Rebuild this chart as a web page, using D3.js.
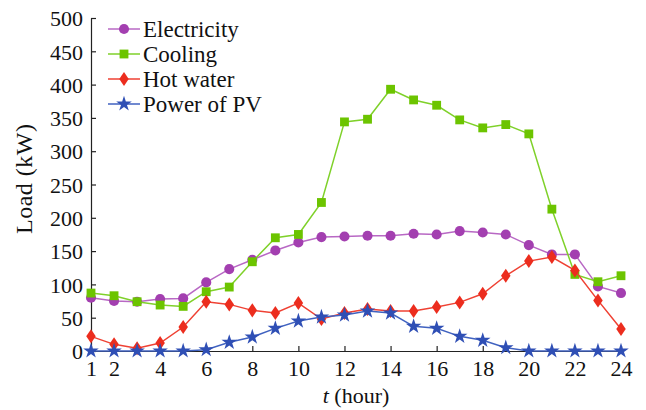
<!DOCTYPE html>
<html>
<head>
<meta charset="utf-8">
<script src="https://cdn.jsdelivr.net/npm/d3@7"></script>
<style>
  body { margin: 0; background: #fff; }
  svg text { font-family: "Liberation Serif", "Times New Roman", serif; fill: #111; }
</style>
</head>
<body>
<div id="chart"></div>
<script>
// Data (kW per hour)
const hours = d3.range(1, 25);
const electricity = [80, 75, 74, 78, 79, 103, 123, 137, 151, 163, 171, 172, 173, 173, 176, 175, 180, 178, 175, 159, 145, 145, 97, 87];
const cooling = [87, 83, 74, 69, 67, 89, 96, 134, 170, 175, 223, 344, 348, 393, 377, 369, 347, 335, 340, 326, 213, 115, 104, 113];
const hotWater = [22, 10, 4, 12, 36, 74, 70, 61, 57, 72, 48, 57, 63, 60, 60, 66, 73, 86, 113, 135, 141, 121, 76, 33];
const pv = [0, 0, 0, 0, 0, 2, 13, 21, 34, 45, 51, 54, 60, 57, 37, 34, 22, 16, 5, 0, 0, 0, 0, 0];

const xTicks = [1, 2, 4, 6, 8, 10, 12, 14, 16, 18, 20, 22, 24];
const yTicks = d3.range(0, 501, 50);

const series = [
    { name: 'Electricity', values: electricity, color: '#a33fb0', line: '#b868c4', shape: 'circle' },
    { name: 'Cooling', values: cooling, color: '#6cc400', line: '#7fd12a', shape: 'square' },
    { name: 'Hot water', values: hotWater, color: '#ec2d1e', line: '#ef4133', shape: 'diamond' },
    { name: 'Power of PV', values: pv, color: '#2f4fb5', line: '#4062c0', shape: 'star' }
];

const width = 646, height = 410;
const x = d3.scaleLinear().domain([1, 24]).range([91, 621]);
const y = d3.scaleLinear().domain([0, 500]).range([351, 18]);

const svg = d3.select('#chart').append('svg')
    .attr('width', width)
    .attr('height', height);

// axes, ticks pointing inward
const xAxis = svg.append('g')
    .attr('transform', `translate(0,${y(0)})`)
    .call(d3.axisBottom(x).tickValues(xTicks).tickSizeInner(-5).tickSizeOuter(0).tickPadding(9));
const yAxis = svg.append('g')
    .attr('transform', `translate(${x(1)},0)`)
    .call(d3.axisLeft(y).tickValues(yTicks).tickSizeInner(-5).tickSizeOuter(0).tickPadding(8));

[xAxis, yAxis].forEach(g => {
    g.attr('font-family', null).attr('font-size', null);
    g.select('.domain').attr('stroke', '#222').attr('stroke-width', 1.2);
    g.selectAll('.tick line').attr('stroke', '#222').attr('stroke-width', 1.2);
    g.selectAll('.tick text')
        .style('font-size', '22px')
        .attr('fill', '#111');
});
yAxis.selectAll('.tick text').attr('dy', '0.35em');

// axis titles
svg.append('text')
    .attr('transform', 'translate(24,179) rotate(-90)')
    .attr('text-anchor', 'middle')
    .attr('dy', '0.35em')
    .attr('textLength', 110)
    .style('font-size', '24px')
    .text('Load (kW)');

const xt = svg.append('text')
    .attr('x', 356)
    .attr('y', 403)
    .attr('text-anchor', 'middle')
    .style('font-size', '22px');
xt.append('tspan').style('font-style', 'italic').text('t');
xt.append('tspan').text(' (hour)');

// markers
const symbols = {
    circle: d3.symbol().type(d3.symbolCircle).size(80),
    square: d3.symbol().type(d3.symbolSquare).size(78),
    diamond: d3.symbol().type(d3.symbolDiamond2).size(80),
    star: d3.symbol().type(d3.symbolStar).size(75)
};

function marker(g, s) {
    const p = g.append('path')
        .attr('d', symbols[s.shape]())
        .attr('fill', s.color);
    if (s.shape === 'diamond') p.attr('transform', 'scale(0.85,1.25)');
    return p;
}

const line = d3.line()
    .x((d, i) => x(hours[i]))
    .y(d => y(d));

series.forEach(s => {
    const g = svg.append('g');
    g.append('path')
        .datum(s.values)
        .attr('fill', 'none')
        .attr('stroke', s.line)
        .attr('stroke-width', 1.5)
        .attr('d', line);
    g.selectAll('g.pt')
        .data(s.values)
        .enter().append('g')
        .attr('class', 'pt')
        .attr('transform', (d, i) => `translate(${x(hours[i])},${y(d)})`)
        .each(function () { marker(d3.select(this), s); });
});

// legend
const legend = svg.append('g');
series.forEach((s, i) => {
    const ly = 29 + i * 25;
    legend.append('line')
        .attr('x1', 108).attr('x2', 140)
        .attr('y1', ly).attr('y2', ly)
        .attr('stroke', s.line)
        .attr('stroke-width', 1.5);
    const m = legend.append('g').attr('transform', `translate(124,${ly})`);
    marker(m, s);
    legend.append('text')
        .attr('x', 143)
        .attr('y', ly)
        .attr('dy', '0.35em')
        .style('font-size', '23px')
        .text(s.name);
});
</script>
</body>
</html>
